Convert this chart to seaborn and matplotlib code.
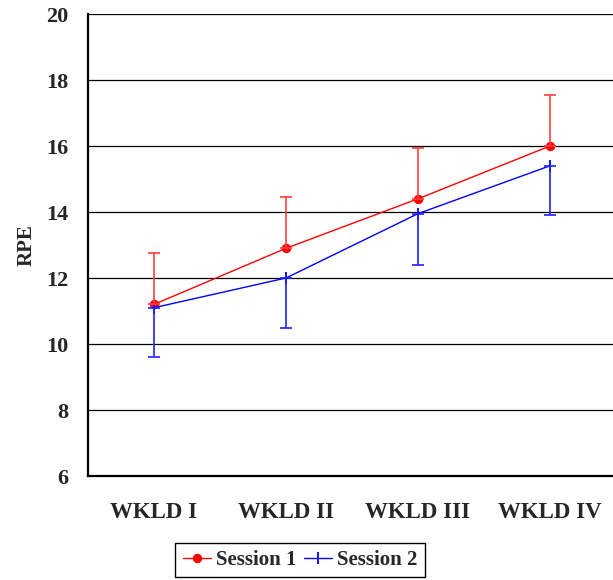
import matplotlib
matplotlib.use("Agg")
import matplotlib.pyplot as plt
import seaborn as sns
import pandas as pd
import numpy as np

# data
workloads = ["WKLD I", "WKLD II", "WKLD III", "WKLD IV"]
session1 = [11.2, 12.9, 14.4, 16.0]
session1_err = [1.55, 1.55, 1.55, 1.55]   # drawn upward only
session2 = [11.1, 12.0, 13.95, 15.4]
session2_err = [1.5, 1.5, 1.55, 1.48]     # drawn downward only

sns.set_style("white")
plt.rcParams['font.family'] = ['Liberation Serif', 'DejaVu Serif']
plt.rcParams['font.weight'] = 'bold'

x = np.arange(len(workloads))
df = pd.concat([
    pd.DataFrame({"pos": x, "RPE": session1, "Session": "Session 1"}),
    pd.DataFrame({"pos": x, "RPE": session2, "Session": "Session 2"}),
])

fig = plt.figure(figsize=(6.13, 5.8), dpi=100)
ax = fig.add_axes([88 / 613, 104 / 580, 528 / 613, 462 / 580])

# gridlines first so they sit under the data
ax.set_ylim(6, 20)
ax.set_yticks(range(6, 21, 2))
ax.yaxis.grid(True, color="black", linewidth=0.9)
ax.set_axisbelow(True)

sns.lineplot(data=df[df.Session == "Session 1"], x="pos", y="RPE", color="#ff0000",
             marker="o", markersize=6, markeredgecolor="#ff0000", linewidth=1.0,
             label="Session 1", ax=ax, legend=False)
sns.lineplot(data=df[df.Session == "Session 2"], x="pos", y="RPE", color="#0000ff",
             marker="|", markersize=9, markeredgewidth=1.3, markeredgecolor="#0000ff",
             linewidth=1.0, label="Session 2", ax=ax, legend=False)

ax.errorbar(x, session1, yerr=[np.zeros(4), session1_err], fmt="none",
            ecolor="#ff4040", elinewidth=1.2, capsize=4, capthick=1.2)
ax.errorbar(x, session2, yerr=[session2_err, np.zeros(4)], fmt="none",
            ecolor="#2020ff", elinewidth=1.2, capsize=4, capthick=1.2)

ax.set_xlim(-0.5, 3.5)
ax.set_xticks([-0.5, 0.5, 1.5, 2.5, 3.5])
ax.set_xticklabels([])
ax.set_xticks(x, minor=True)
ax.set_xticklabels(workloads, minor=True, fontsize=16.5, fontweight="bold")
ax.tick_params(axis="x", which="major", direction="out", length=6, width=1.3, color="black")
ax.tick_params(axis="x", which="minor", length=0, pad=19)
ax.tick_params(axis="y", direction="out", length=6, width=1.3, color="black",
               labelsize=16, pad=8)
for lab in ax.get_yticklabels():
    lab.set_fontweight("bold")

ax.set_xlabel("")
ax.set_ylabel("RPE", fontsize=15, fontweight="bold", labelpad=7)

for side in ["top", "right"]:
    ax.spines[side].set_visible(False)
for side in ["left", "bottom"]:
    ax.spines[side].set_color("black")
    ax.spines[side].set_linewidth(1.6)

handles, labels = ax.get_legend_handles_labels()
leg = fig.legend(handles[:2], labels[:2], loc="center", bbox_to_anchor=(300 / 613, 1 - 560 / 580),
                 ncol=2, frameon=True, fancybox=False, edgecolor="black", framealpha=1,
                 prop={"size": 15, "weight": "bold"}, handlelength=1.35, handletextpad=0.25,
                 columnspacing=0.35, borderpad=0.35, borderaxespad=0)
leg.get_frame().set_linewidth(1.0)

fig.savefig("out.png", dpi=100)
